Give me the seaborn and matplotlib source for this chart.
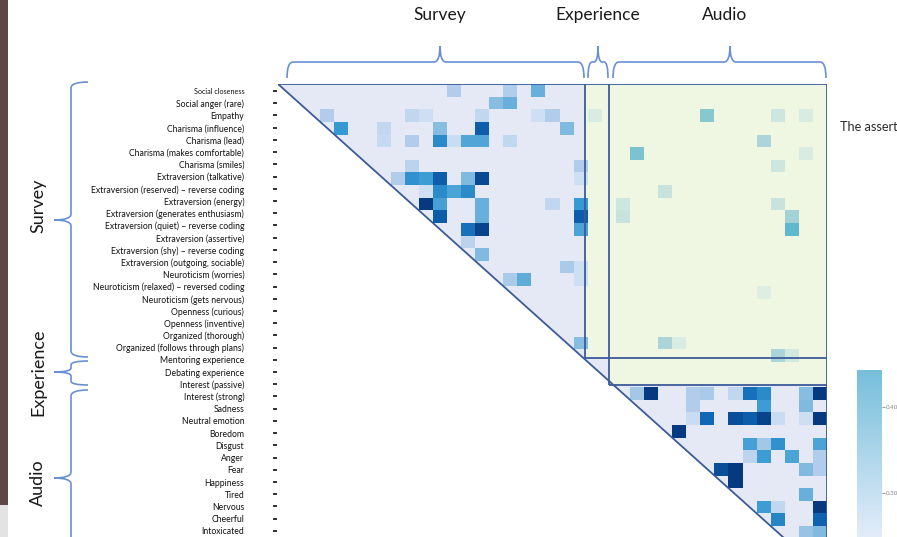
import numpy as np
import matplotlib
matplotlib.use("Agg")
import matplotlib.pyplot as plt
import seaborn as sns
from matplotlib.colors import LinearSegmentedColormap, Normalize
from matplotlib.path import Path
from matplotlib.patches import PathPatch, Polygon, Rectangle
import matplotlib.cm as cm

sns.set_theme(style="white")
plt.rcParams["font.family"] = ["Lato", "DejaVu Sans"]

# ---------------------------------------------------------------- data
groups = ["Survey", "Experience", "Audio"]
group_sizes = [22, 2, 15]

row_labels = [
    "Social closeness", "Social anger (rare)", "Empathy",
    "Charisma (influence)", "Charisma (lead)", "Charisma (makes comfortable)",
    "Charisma (smiles)", "Extraversion (talkative)",
    "Extraversion (reserved) \u2013 reverse coding", "Extraversion (energy)",
    "Extraversion (generates enthusiasm)",
    "Extraversion (quiet) \u2013 reverse coding", "Extraversion (assertive)",
    "Extraversion (shy) \u2013 reverse coding",
    "Extraversion (outgoing, sociable)", "Neuroticism (worries)",
    "Neuroticism (relaxed) \u2013 reversed coding",
    "Neuroticism (gets nervous)", "Openness (curious)", "Openness (inventive)",
    "Organized (thorough)", "Organized (follows through plans)",
    "Mentoring experience", "Debating experience",
    "Interest (passive)", "Interest (strong)", "Sadness", "Neutral emotion",
    "Boredom", "Disgust", "Anger", "Fear", "Happiness", "Tired", "Nervous",
    "Cheerful", "Intoxicated",
]

# significant correlations among survey items
survey_rows = [0, 0, 0, 1, 1, 2, 2, 2, 2, 2, 2, 3, 3, 3, 3, 3,
               4, 4, 4, 4, 4, 4, 4, 6, 6, 7, 7, 7, 7, 7, 7, 7,
               8, 8, 8, 8, 9, 9, 9, 9, 9, 10, 10, 10, 11, 11, 11,
               12, 13, 14, 14, 15, 15, 15, 20]
survey_cols = [12, 16, 18, 15, 16, 3, 9, 10, 14, 18, 19, 4, 7, 11, 14, 20,
               7, 9, 11, 12, 13, 14, 16, 9, 21, 8, 9, 10, 11, 13, 14, 21,
               10, 11, 12, 13, 10, 11, 14, 19, 21, 11, 14, 21, 13, 14, 21,
               13, 14, 20, 21, 16, 17, 21, 21]
survey_vals = [.28, .28, .37, .33, .37, .28, .25, .22, .25, .22, .28,
               .44, .25, .33, .53, .34,
               .24, .28, .46, .23, .40, .40, .25, .26, .28,
               .28, .45, .43, .53, .34, .57, .22,
               .22, .46, .41, .46, .60, .42, .37, .25, .44,
               .53, .37, .53, .50, .58, .41,
               .26, .34, .29, .22, .29, .38, .22, .33]

# significant correlations among audio features
audio_rows = [24, 24, 24, 24, 24, 24, 24, 24, 24, 25, 25, 25,
              26, 26, 26, 26, 26, 26, 26, 26, 27,
              28, 28, 28, 28, 29, 29, 29, 29, 30, 30, 30, 30, 31, 32,
              33, 33, 33, 34, 34, 35, 35]
audio_cols = [25, 26, 29, 30, 32, 33, 34, 37, 38, 29, 34, 37,
              29, 30, 32, 33, 34, 35, 37, 38, 28,
              33, 34, 35, 38, 33, 34, 36, 38, 31, 32, 37, 38, 32, 37,
              34, 35, 38, 35, 38, 37, 38]
audio_vals = [.30, .60, .28, .29, .25, .50, .46, .33, .60, .28, .43, .34,
              .23, .51, .56, .53, .58, .23, .22, .60, .60,
              .42, .30, .45, .41, .26, .43, .41, .28, .56, .60, .34, .28,
              .60, .37, .43, .25, .60, .47, .52, .31, .34]

# significant correlations between survey / experience and audio
cross_rows = [2, 2, 2, 2, 4, 5, 5, 6, 8, 9, 9, 10, 10, 11, 16, 20, 20, 21, 21]
cross_cols = [22, 30, 35, 37, 34, 25, 37, 35, 27, 24, 35, 24, 36, 36, 34,
              27, 28, 35, 36]
cross_vals = [.22, .35, .24, .22, .30, .37, .22, .24, .25, .24, .25, .25,
              .31, .42, .21, .30, .22, .30, .23]

# ---------------------------------------------------------------- layout
W, H = 897, 537
n_vars = sum(group_sizes)
n_rows_shown = 36
row_px = 12.63
grid_top, grid_left, grid_right = 84, 278, 827
# hand-placed frame around the blocks (in cell units)
frame_x = (21.8, 23.5)
frame_y = (21.7, 23.83)

blue_cmap = LinearSegmentedColormap.from_list(
    "corr_blue",
    [(0.0, "#d8e5f5"), (0.2, "#b2cdeb"), (0.4, "#6fb3dc"),
     (0.6, "#3599d2"), (0.8, "#0f62b2"), (1.0, "#063a80")])
teal_cmap = LinearSegmentedColormap.from_list(
    "corr_teal",
    [(0.0, "#e4f1e3"), (0.25, "#aad5d8"), (0.375, "#86c8d0"),
     (0.55, "#5fb8cc"), (1.0, "#2a8ab0")])
bar_cmap = LinearSegmentedColormap.from_list("bar", ["#e2ecf9", "#76bedb"])
vmin, vmax = 0.2, 0.6


def to_matrix(rows, cols, vals):
    m = np.full((n_rows_shown, n_vars), np.nan)
    m[np.array(rows), np.array(cols)] = vals
    return m


within = np.fmax(to_matrix(survey_rows, survey_cols, survey_vals),
                 to_matrix(audio_rows, audio_cols, audio_vals))
cross = to_matrix(cross_rows, cross_cols, cross_vals)

fig = plt.figure(figsize=(W / 100, H / 100), dpi=100)
fig.patch.set_facecolor("white")

# full-figure layer for braces and captions (pixel coordinates)
ov = fig.add_axes([0, 0, 1, 1], zorder=0)
ov.set_xlim(0, W)
ov.set_ylim(H, 0)
ov.axis("off")

# heatmap
ax = fig.add_axes([grid_left / W, 0, (grid_right - grid_left) / W,
                   (H - grid_top) / H], zorder=2)
ax.set_facecolor("none")
edge = n_vars
fx1, fx2 = frame_x
fy1, fy2 = frame_y
ax.add_patch(Polygon([(0, 0), (edge, 0), (edge, edge)], closed=True,
                     facecolor="#e4e9f5", edgecolor="none", zorder=0))
ax.add_patch(Rectangle((fx1, 0), edge - fx1, fy1, facecolor="#eff7e3",
                       edgecolor="none", zorder=0))
ax.add_patch(Rectangle((fx2, fy1), edge - fx2, fy2 - fy1,
                       facecolor="#eff7e3", edgecolor="none", zorder=0))

sns.heatmap(within, mask=np.isnan(within), cmap=blue_cmap, vmin=vmin,
            vmax=vmax, cbar=False, xticklabels=False, yticklabels=False,
            ax=ax)
sns.heatmap(cross, mask=np.isnan(cross), cmap=teal_cmap, vmin=vmin,
            vmax=vmax, cbar=False, xticklabels=False, yticklabels=False,
            ax=ax)
ax.set_xlim(0, edge)
ax.set_ylim((H - grid_top) / row_px, 0)
for s in ax.spines.values():
    s.set_visible(False)

line_kw = dict(color="#3b5b98", lw=1.3, zorder=5, solid_capstyle="butt")
ax.plot([0, edge], [0, 0], **line_kw)
ax.plot([0, edge], [0, edge], **line_kw)
ax.plot([edge, edge], [0, edge], **line_kw)
ax.plot([fx1, fx1], [0, fy1], **line_kw)
ax.plot([fx1, edge], [fy1, fy1], **line_kw)
ax.plot([fx2, fx2], [0, fy2], **line_kw)
ax.plot([fx2, edge], [fy2, fy2], **line_kw)

# row labels
n_lab = len(row_labels)
lab_top = 84.9
lab = fig.add_axes([247 / W, 0, 30 / W, (H - lab_top) / H], zorder=1)
lab.set_facecolor("none")
lab.set_ylim(n_lab, 0)
lab.set_xlim(0, 1)
lab.set_xticks([])
lab.set_yticks(np.arange(n_lab) + 0.5)
lab.set_yticklabels(row_labels)
lab.tick_params(axis="y", left=False, right=True, direction="in",
                length=3, width=1.3, color="#222222", labelsize=6.2,
                labelcolor="#111111", pad=2)
lab.get_yticklabels()[0].set_fontsize(5.2)
for s in lab.spines.values():
    s.set_visible(False)


# curly braces
def brace(p0, p1, tip, depth, r, horizontal):
    """Brace from p0 to p1 with a point at `tip`, drawn in pixel space."""
    if horizontal:
        (x0, yb), x1, xt = p0, p1, tip
        ym, yt = yb - depth, yb - 2 * depth
        verts = [(x0, yb), (x0, ym), (x0 + r, ym), (xt - r, ym), (xt, ym),
                 (xt, yt), (xt, ym), (xt + r, ym), (x1 - r, ym), (x1, ym),
                 (x1, yb)]
    else:
        (xb, y0), y1, yt = p0, p1, tip
        xm, xt = xb - depth, xb - 2 * depth
        verts = [(xb, y0), (xm, y0), (xm, y0 + r), (xm, yt - r), (xm, yt),
                 (xt, yt), (xm, yt), (xm, yt + r), (xm, y1 - r), (xm, y1),
                 (xb, y1)]
    codes = [Path.MOVETO, Path.CURVE3, Path.CURVE3, Path.LINETO,
             Path.CURVE3, Path.CURVE3, Path.CURVE3, Path.CURVE3,
             Path.LINETO, Path.CURVE3, Path.CURVE3]
    ov.add_patch(PathPatch(Path(verts, codes), facecolor="none",
                           edgecolor="#6b8fd3", lw=1.2))


brace((287, 78), 584, 440, 16, 6, True)
brace((588, 78), 608, 598, 16, 4, True)
brace((613, 78), 826, 730, 16, 6, True)
brace((88, 82), 357, 220, 17, 6, False)
brace((88, 361), 385, 372, 17, 4, False)
brace((88, 390), 566, 478, 17, 6, False)

for name, x in zip(groups, [440, 598, 725]):
    ov.text(x, 15, name, ha="center", va="center", fontsize=12.5,
            color="#1a1a1a")
for name, y in zip(groups, [206, 372, 483]):
    ov.text(38, y, name, ha="center", va="center", rotation=90,
            fontsize=13, color="#1a1a1a")

ov.text(840, 127, "The assert", ha="left", va="center", fontsize=9.2,
        color="#2a2a2a")

# edge of the neighbouring picture on the left
ov.add_patch(Rectangle((0, 0), 8, 505, facecolor="#5d4749",
                       edgecolor="none"))
ov.add_patch(Rectangle((0, 505), 8, 32, facecolor="#e3e3e3",
                       edgecolor="none"))

# colour scale
cax = fig.add_axes([857 / W, 0, 25 / W, 167 / H], zorder=1)
cb = fig.colorbar(cm.ScalarMappable(norm=Normalize(0.249, 0.443),
                                    cmap=bar_cmap), cax=cax)
cb.outline.set_visible(False)
cb.set_ticks([0.3, 0.4])
cb.set_ticklabels(["0.30", "0.40"])
cax.tick_params(labelsize=4.5, labelcolor="#888888", color="#888888",
                length=2, width=0.6, pad=1)

fig.savefig("out.png", dpi=100)
